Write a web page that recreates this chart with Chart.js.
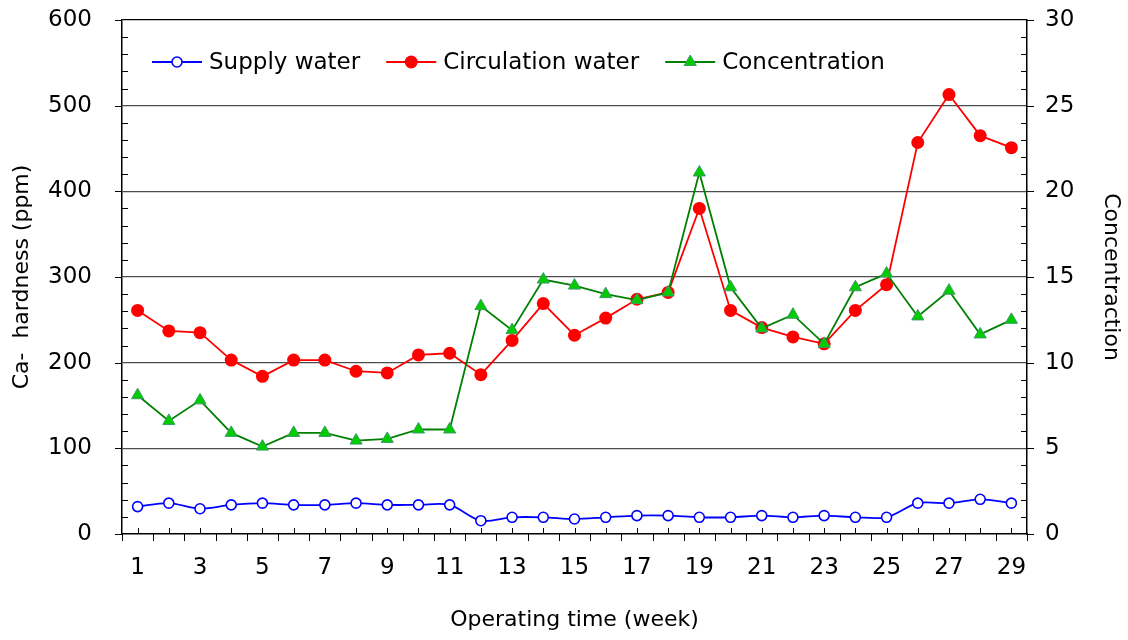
<!DOCTYPE html>
<html>
<head>
<meta charset="utf-8">
<title>Ca-hardness</title>
<script src="https://cdn.jsdelivr.net/npm/chart.js@4.4.1/dist/chart.umd.min.js"></script>
<style>
  html, body { margin: 0; padding: 0; background: #fff; }
  canvas { display: block; }
</style>
</head>
<body>
<canvas id="chart" width="1128" height="640"></canvas>
<script>
// data
const weeks = ["1","2","3","4","5","6","7","8","9","10","11","12","13","14","15",
  "16","17","18","19","20","21","22","23","24","25","26","27","28","29"];
const supplyWater = [32, 36, 29.5, 34, 36, 34, 34, 36, 34, 34, 34, 15.5, 19.5, 19.5, 17.5,
  19.5, 21.5, 21.5, 19.5, 19.5, 21.5, 19.5, 21.5, 19.5, 19.5, 36, 36, 40.5, 36];
const circulationWater = [261, 237, 235, 203, 184, 203, 203, 190, 188, 209, 211, 186, 226, 269, 232,
  252, 274, 282, 380, 261, 241, 230, 222, 261, 291, 457, 513, 465, 451];
const concentration = [8.1, 6.6, 7.8, 5.9, 5.1, 5.9, 5.9, 5.45, 5.55, 6.1, 6.1, 13.3, 11.9, 14.85, 14.5,
  14.0, 13.65, 14.1, 21.1, 14.4, 12.0, 12.8, 11.1, 14.4, 15.2, 12.7, 14.2, 11.65, 12.5];

const leftTicks = { min: 0, max: 600, step: 100, minor: 20 };
const rightTicks = { min: 0, max: 30, step: 5, minor: 1 };

const FONT = "'DejaVu Sans', 'Liberation Sans', Arial, sans-serif";
Chart.defaults.font.family = FONT;
Chart.defaults.color = "#000";

// tick marks: majors outward, minors inward, like the original
const tickMarks = {
  id: "tickMarks",
  afterDraw(chart) {
    const ctx = chart.ctx;
    const x = chart.scales.x, y = chart.scales.y, y1 = chart.scales.y1;
    const area = chart.chartArea;
    const half = (x.getPixelForValue(1) - x.getPixelForValue(0)) / 2;
    ctx.save();
    ctx.strokeStyle = "#000";
    ctx.lineWidth = 1;
    ctx.beginPath();
    // x: up at each week, down at slot borders
    for (let i = 0; i < weeks.length; i++) {
      const px = Math.round(x.getPixelForValue(i)) + 0.5;
      ctx.moveTo(px, area.bottom);
      ctx.lineTo(px, area.bottom - 6);
      const bx = Math.round(x.getPixelForValue(i) + half) + 0.5;
      ctx.moveTo(bx, area.bottom);
      ctx.lineTo(bx, area.bottom + 7);
    }
    const lx = Math.round(area.left) + 0.5;
    ctx.moveTo(lx, area.bottom);
    ctx.lineTo(lx, area.bottom + 7);
    // left axis
    for (let v = leftTicks.min; v <= leftTicks.max; v += leftTicks.minor) {
      const py = Math.round(y.getPixelForValue(v)) + 0.5;
      if (v % leftTicks.step === 0) {
        ctx.moveTo(area.left - 7, py);
        ctx.lineTo(area.left, py);
      } else {
        ctx.moveTo(area.left, py);
        ctx.lineTo(area.left + 6, py);
      }
    }
    // right axis
    for (let v = rightTicks.min; v <= rightTicks.max; v += rightTicks.minor) {
      const py = Math.round(y1.getPixelForValue(v)) + 0.5;
      if (v % rightTicks.step === 0) {
        ctx.moveTo(area.right, py);
        ctx.lineTo(area.right + 7, py);
      } else {
        ctx.moveTo(area.right - 6, py);
        ctx.lineTo(area.right, py);
      }
    }
    ctx.stroke();
    ctx.restore();
  }
};

// legend inside the plot: line with marker, then label
const innerLegend = {
  id: "innerLegend",
  afterDraw(chart) {
    const ctx = chart.ctx;
    const area = chart.chartArea;
    const cy = area.top + 42;
    let cx = area.left + 30;
    ctx.save();
    ctx.font = "23px " + FONT;
    ctx.textBaseline = "middle";
    chart.data.datasets.slice().sort((a, b) => a.legendIndex - b.legendIndex).forEach(ds => {
      ctx.strokeStyle = ds.borderColor;
      ctx.lineWidth = ds.borderWidth;
      ctx.beginPath();
      ctx.moveTo(cx, cy);
      ctx.lineTo(cx + 50, cy);
      ctx.stroke();
      const mx = cx + 25, r = ds.pointRadius;
      ctx.beginPath();
      if (ds.pointStyle === "triangle") {
        ctx.moveTo(mx, cy - r);
        ctx.lineTo(mx + r * Math.sin(Math.PI * 2 / 3), cy - r * Math.cos(Math.PI * 2 / 3));
        ctx.lineTo(mx - r * Math.sin(Math.PI * 2 / 3), cy - r * Math.cos(Math.PI * 2 / 3));
        ctx.closePath();
      } else {
        ctx.arc(mx, cy, r, 0, Math.PI * 2);
      }
      ctx.fillStyle = ds.pointBackgroundColor;
      ctx.fill();
      if (ds.pointBorderWidth) {
        ctx.strokeStyle = ds.pointBorderColor;
        ctx.lineWidth = ds.pointBorderWidth;
        ctx.stroke();
      }
      ctx.fillStyle = "#000";
      ctx.fillText(ds.label, cx + 57, cy + 1);
      cx += 57 + ctx.measureText(ds.label).width + 26;
    });
    ctx.restore();
  }
};

// keep the plot box where the original has it
function noOverflow(scale) {
  scale.paddingTop = 0;
  scale.paddingBottom = 0;
  scale.paddingLeft = 0;
  scale.paddingRight = 0;
}

new Chart(document.getElementById("chart"), {
  type: "line",
  data: {
    labels: weeks,
    datasets: [
      {
        label: "Concentration",
        legendIndex: 2,
        order: 0,
        data: concentration,
        yAxisID: "y1",
        borderColor: "#008000",
        borderWidth: 1.8,
        pointStyle: "triangle",
        pointRadius: 7,
        pointBackgroundColor: "#00CC00",
        pointBorderColor: "#3A9A6A",
        pointBorderWidth: 1,
        tension: 0
      },
      {
        label: "Circulation water",
        legendIndex: 1,
        order: 1,
        data: circulationWater,
        yAxisID: "y",
        borderColor: "#FF0000",
        borderWidth: 1.8,
        pointStyle: "circle",
        pointRadius: 6.5,
        pointBackgroundColor: "#FF0000",
        pointBorderColor: "#FF0000",
        pointBorderWidth: 0,
        tension: 0
      },
      {
        label: "Supply water",
        legendIndex: 0,
        order: 2,
        data: supplyWater,
        yAxisID: "y",
        borderColor: "#0000FF",
        borderWidth: 1.8,
        pointStyle: "circle",
        pointRadius: 5,
        pointBackgroundColor: "#FFFFFF",
        pointBorderColor: "#0000FF",
        pointBorderWidth: 1.6,
        tension: 0.3
      }
    ]
  },
  options: {
    responsive: false,
    animation: false,
    devicePixelRatio: 1,
    layout: { padding: { top: 20, left: 0, right: 0, bottom: 0 } },
    plugins: {
      legend: { display: false },
      tooltip: { enabled: false }
    },
    scales: {
      x: {
        type: "category",
        offset: true,
        grid: { display: false, drawTicks: false, offset: true },
        border: { display: true, color: "#000", width: 1.5 },
        ticks: {
          autoSkip: false,
          maxRotation: 0,
          padding: 20,
          font: { size: 23 },
          callback: function (val, i) { return i % 2 === 0 ? weeks[i] : ""; }
        },
        title: {
          display: true,
          text: "Operating time (week)",
          font: { size: 22 },
          padding: { top: 0, bottom: 7 }
        },
        afterFit(scale) { scale.height = 106; noOverflow(scale); }
      },
      y: {
        position: "left",
        min: leftTicks.min,
        max: leftTicks.max,
        ticks: { stepSize: leftTicks.step, padding: 30, font: { size: 23 } },
        grid: {
          drawTicks: false,
          lineWidth: 1.2,
          color: ctx => (ctx.tick.value === leftTicks.max ? "#000" : (ctx.tick.value === 0 ? "rgba(0,0,0,0)" : "#4d4d4d"))
        },
        border: { display: true, color: "#000", width: 1.5 },
        title: {
          display: true,
          text: "Ca-  hardness (ppm)",
          font: { size: 22 },
          padding: { top: 9, bottom: 0 }
        },
        afterFit(scale) { scale.width = 122; noOverflow(scale); }
      },
      y1: {
        position: "right",
        min: rightTicks.min,
        max: rightTicks.max,
        ticks: { stepSize: rightTicks.step, padding: 18, font: { size: 23 } },
        grid: { display: false, drawTicks: false },
        border: { display: true, color: "#000", width: 1.5 },
        title: {
          display: true,
          text: "Concentraction",
          font: { size: 22 },
          padding: { top: 4, bottom: 4 }
        },
        afterFit(scale) { scale.width = 101; noOverflow(scale); }
      }
    }
  },
  plugins: [tickMarks, innerLegend]
});
</script>
</body>
</html>
